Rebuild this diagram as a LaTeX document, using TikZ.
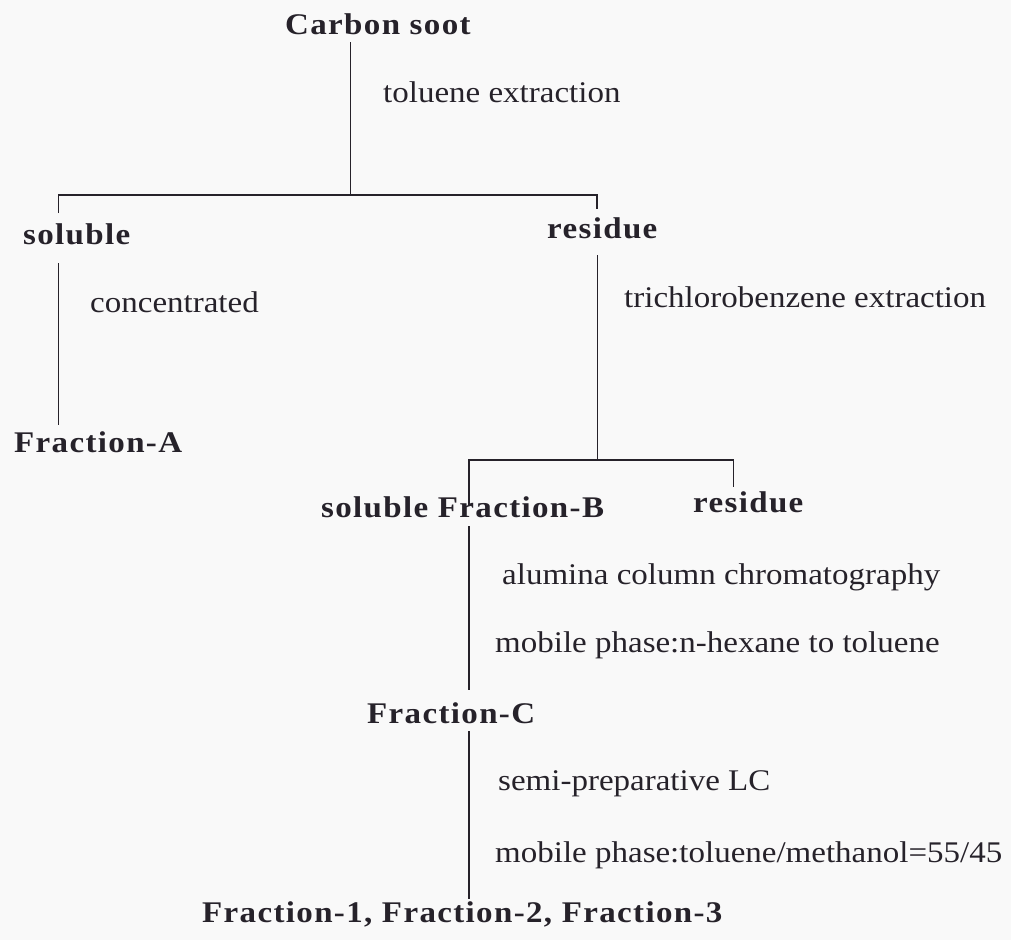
\documentclass[tikz,border=0pt]{standalone}
\usepackage{fontspec}
\setmainfont{Liberation Serif}[FakeStretch=1.1]
\newfontfamily\hdfont{Liberation Serif}[FakeStretch=1.1,LetterSpace=4.5]
\definecolor{ink}{RGB}{38,34,42}
\definecolor{paper}{RGB}{249,249,249}
\begin{document}
\begin{tikzpicture}[x=1pt,y=-1pt,
  lbl/.style={anchor=base west,inner sep=0pt,text=ink,font=\fontsize{30}{36}\selectfont},
  hd/.style={anchor=base west,inner sep=0pt,text=ink,font=\hdfont\fontsize{30}{36}\selectfont\bfseries},
  ln/.style={draw=ink,line width=1.3pt}]
\fill[paper] (0,0) rectangle (1011,940);
\useasboundingbox (0,0) rectangle (1011,940);

% text nodes
\node[hd]  (cs)   at (285,34)  {Carbon soot};
\node[lbl] (tol)  at (383,102) {toluene extraction};
\node[hd]  (sol1) at (23,244)  {soluble};
\node[hd]  (res1) at (547,238) {residue};
\node[lbl] (conc) at (90,312)  {concentrated};
\node[lbl] (tcb)  at (624,307) {trichlorobenzene extraction};
\node[hd]  (fa)   at (14,452)  {Fraction-A};
\node[hd]  (fb)   at (321,517) {soluble Fraction-B};
\node[hd]  (res2) at (693,512) {residue};
\node[lbl] (alu)  at (502,584) {alumina column chromatography};
\node[lbl] (mp1)  at (495,652) {mobile phase:n-hexane to toluene};
\node[hd]  (fc)   at (367,723) {Fraction-C};
\node[lbl] (semi) at (498,790) {semi-preparative LC};
\node[lbl] (mp2)  at (495,862) {mobile phase:toluene/methanol=55/45};
\node[hd]  (f123) at (202,922) {Fraction-1, Fraction-2, Fraction-3};

% junction coordinates
\coordinate (csout) at (350.5,42);
\coordinate (j1)    at (350.5,195);
\coordinate (j1l)   at (58.5,195);
\coordinate (j1r)   at (597,195);
\coordinate (sol1in) at (58.5,213);
\coordinate (res1in) at (597,209);
\coordinate (sol1out) at (58.5,263);
\coordinate (fain)  at (58.5,425);
\coordinate (res1out) at (597.5,255);
\coordinate (j2)    at (597.5,460);
\coordinate (j2l)   at (469,460);
\coordinate (j2r)   at (733.5,460);
\coordinate (fbin)  at (469,505);
\coordinate (res2in) at (733.5,487);
\coordinate (fbout) at (469,526);
\coordinate (fcin)  at (469,690);
\coordinate (fcout) at (469,731);
\coordinate (f123in) at (469,899);

% connectors
\draw[ln] (csout) -- (j1);
\draw[ln] (sol1in) -- (j1l) -- (j1r) -- (res1in);
\draw[ln] (sol1out) -- (fain);
\draw[ln] (res1out) -- (j2);
\draw[ln] (fbin) -- (j2l) -- (j2r) -- (res2in);
\draw[ln] (fbout) -- (fcin);
\draw[ln] (fcout) -- (f123in);
\end{tikzpicture}
\end{document}
